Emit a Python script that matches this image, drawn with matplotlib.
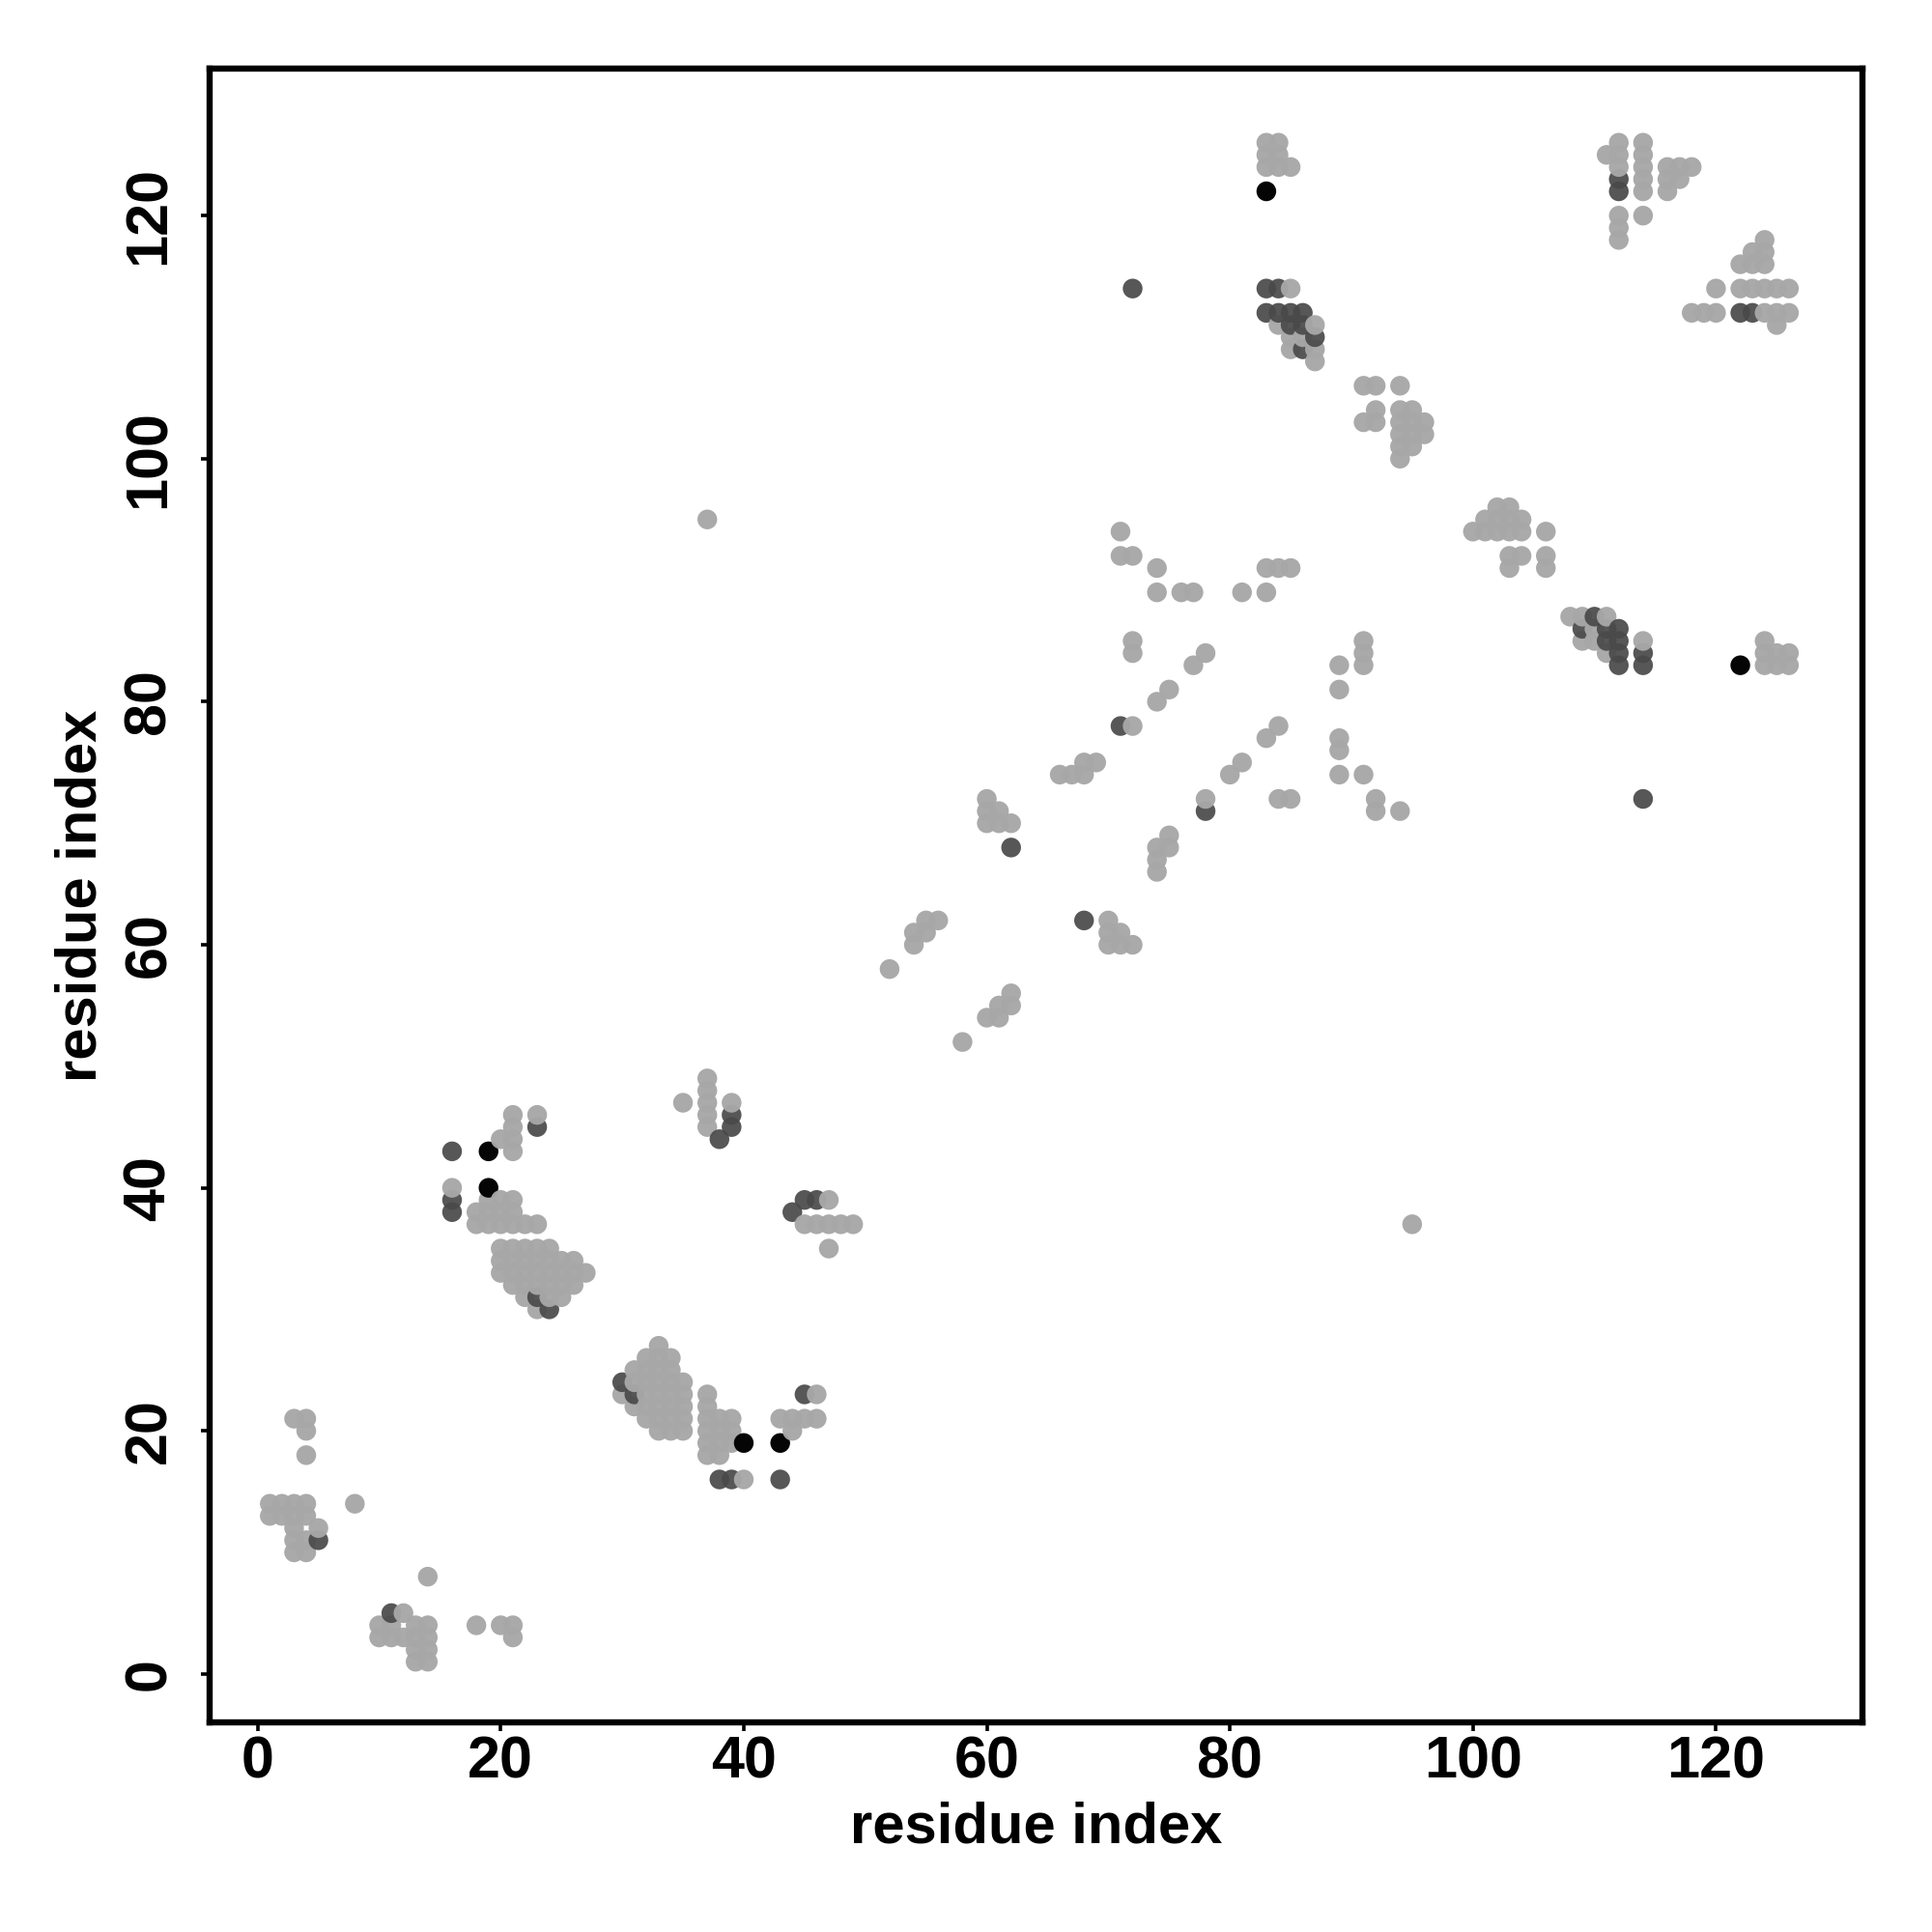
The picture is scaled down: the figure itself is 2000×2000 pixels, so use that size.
import matplotlib
matplotlib.use("Agg")
import matplotlib.pyplot as plt

plt.rcParams['font.family'] = ['Liberation Sans', 'DejaVu Sans']

# contact pairs, each one is drawn on both sides of the diagonal
light_pairs = [
    (1,13),(1,14),(2,13),(2,14),(3,10),(3,11),(3,12),(3,13),(3,14),(3,21),
    (4,10),(4,11),(4,13),(4,14),(4,18),(4,20),(4,21),(5,12),(8,14),
    (16,40),(18,37),(18,38),(19,37),(19,38),(19,39),(20,37),(20,38),(20,39),(20,44),
    (21,37),(21,38),(21,39),(21,43),(21,44),(21,45),(21,46),(22,37),(23,37),(23,46),
    (20,33),(20,34),(20,35),(21,32),(21,33),(21,34),(21,35),(22,31),(22,32),(22,33),(22,34),(22,35),
    (23,30),(23,32),(23,33),(23,34),(23,35),(24,31),(24,32),(24,33),(24,34),(24,35),
    (25,31),(25,32),(25,33),(25,34),(26,32),(26,33),(26,34),(27,33),
    (35,47),(37,45),(37,46),(37,47),(37,48),(37,49),(39,47),(37,95),
    (52,58),(54,60),(54,61),(55,61),(55,62),(56,62),
    (60,70),(60,71),(60,72),(61,70),(61,71),(62,70),
    (66,74),(67,74),(68,74),(68,75),(69,75),
    (72,78),(71,92),(72,92),(71,94),(72,84),(72,85),
    (74,80),(75,81),(77,83),(78,84),(74,89),(74,91),(76,89),(77,89),
    (81,89),(83,89),(83,91),(84,91),(85,91),
    (83,124),(83,125),(83,126),(84,124),(84,125),(84,126),(85,124),(85,114),
    (84,111),(87,111),(85,110),(86,110),(85,109),(87,109),(87,108),
    (91,103),(92,103),(92,104),(91,106),(92,106),(94,106),
    (94,100),(94,101),(94,102),(94,103),(94,104),(95,101),(95,102),(95,103),(95,104),(96,102),(96,103),
    (111,125),(112,118),(112,119),(112,120),(112,124),(112,125),(112,126),
    (114,120),(114,122),(114,123),(114,124),(114,125),(114,126),
    (116,122),(116,123),(116,124),(117,123),(117,124),(118,124),
]
dark_pairs = [
    (5,11),(16,38),(16,39),(16,43),(23,31),(23,45),(24,30),
    (38,44),(39,45),(39,46),(72,114),(62,68),(71,78),
    (83,112),(84,112),(85,112),(86,112),(83,114),(84,114),
    (85,111),(86,111),(87,110),(86,109),
    (112,122),(112,123),
]
black_pairs = [(19,40),(19,43),(83,122)]
axis_ticks = [0, 20, 40, 60, 80, 100, 120]
axis_label = "residue index"


def both_sides(pairs, col):
    out = []
    for a, b in pairs:
        out.append((a, b, col))
        out.append((b, a, col))
    return out


light_col = (0.655, 0.655, 0.655, 0.97)
dark_col = (0.29, 0.29, 0.29, 0.93)
black_col = (0.02, 0.02, 0.02, 1.0)
points = both_sides(light_pairs, light_col) + both_sides(dark_pairs, dark_col) + both_sides(black_pairs, black_col)
# later x and later y sit on top
points.sort(key=lambda t: (t[0], t[1]))
xs = [p[0] for p in points]
ys = [p[1] for p in points]
cols = [p[2] for p in points]

fig = plt.figure(figsize=(10, 10), dpi=200)
ax = fig.add_axes([217 / 2000, 1 - 1783 / 2000, (1928 - 217) / 2000, (1783 - 71) / 2000])
ax.scatter(xs, ys, s=54, c=cols, linewidths=0)

ax.set_xlim(-3.95, 132.05)
ax.set_ylim(-3.99, 132.1)
ax.set_xticks(axis_ticks)
ax.set_yticks(axis_ticks)
ax.tick_params(length=3.2, width=1.3, labelsize=22)
ax.tick_params(axis='x', pad=1.8)
ax.tick_params(axis='y', pad=8.7)
for lab in ax.get_xticklabels() + ax.get_yticklabels():
    lab.set_fontweight('bold')
for lab in ax.get_yticklabels():
    lab.set_rotation(90)
    lab.set_va('center')
for s in ax.spines.values():
    s.set_linewidth(2.3)
ax.set_xlabel(axis_label, fontsize=21.5, fontweight='bold', labelpad=4.0)
ax.set_ylabel(axis_label, fontsize=21.5, fontweight='bold', labelpad=5.6)

fig.savefig("out.png", dpi=200)
